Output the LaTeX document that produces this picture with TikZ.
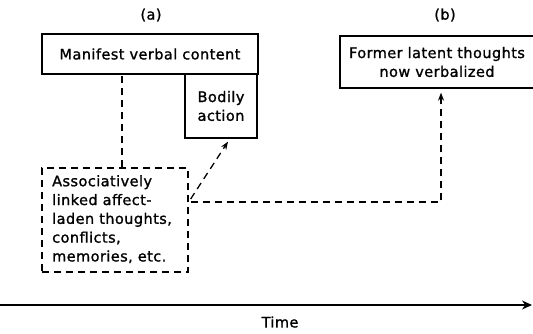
\documentclass[tikz,border=0pt]{standalone}
\usepackage{fontspec}
\setmainfont{DejaVu Sans}[UprightFeatures={FakeBold=1.2}, LetterSpace=3]
\usetikzlibrary{arrows.meta}
\begin{document}
\begin{tikzpicture}[x=1pt,y=-1pt,
  every node/.style={font=\fontsize{14.5}{18.8}\selectfont, inner sep=0pt},
  solidbox/.style={draw, line width=1.3pt, rectangle, align=center},
  dashbox/.style={draw, line width=1.3pt, rectangle, dash pattern=on 7pt off 5pt},
  dashline/.style={line width=1.3pt, dash pattern=on 7pt off 5pt},
  tip/.style={-{Stealth[length=8pt,width=6pt]}},
  bigtip/.style={-{Stealth[length=10pt,width=9pt]}}]
\useasboundingbox (0,0) rectangle (533,333);

% column labels
\node (la) at (151,15) {(a)};
\node (lb) at (445,15) {(b)};

% boxes
\node[solidbox, minimum width=216pt, minimum height=40pt] (manifest) at (150,54) {Manifest verbal content};
\node[solidbox, minimum width=72pt, minimum height=64pt] (bodily) at (221,106) {Bodily\\action};
\node[dashbox, minimum width=146pt, minimum height=104pt] (latent) at (115,220) {};
\node[align=left, anchor=north west] (latenttext) at (52,175)
  {Associatively\\linked affect-\\laden thoughts,\\conflicts,\\memories, etc.};
\node[solidbox, minimum width=194pt, minimum height=52pt] (former) at (437,62) {Former latent thoughts\\now verbalized};

% connectors
\draw[dashline] ([xshift=7pt]latent.north) -- ([xshift=7pt]latent.north |- manifest.south);
\draw[dashline, tip] ([xshift=2pt,yshift=21pt]latent.east) -- ([xshift=7pt,yshift=-3pt]bodily.south);
\draw[dashline, tip] ([xshift=2pt,yshift=18pt]latent.east) -| ([xshift=4pt,yshift=-4pt]former.south);

% time axis
\coordinate (t0) at (0,305);
\coordinate (t1) at (532,305);
\draw[line width=1.2pt, bigtip] (t0) -- (t1);
\node (time) at (280,322) {Time};
\end{tikzpicture}
\end{document}
